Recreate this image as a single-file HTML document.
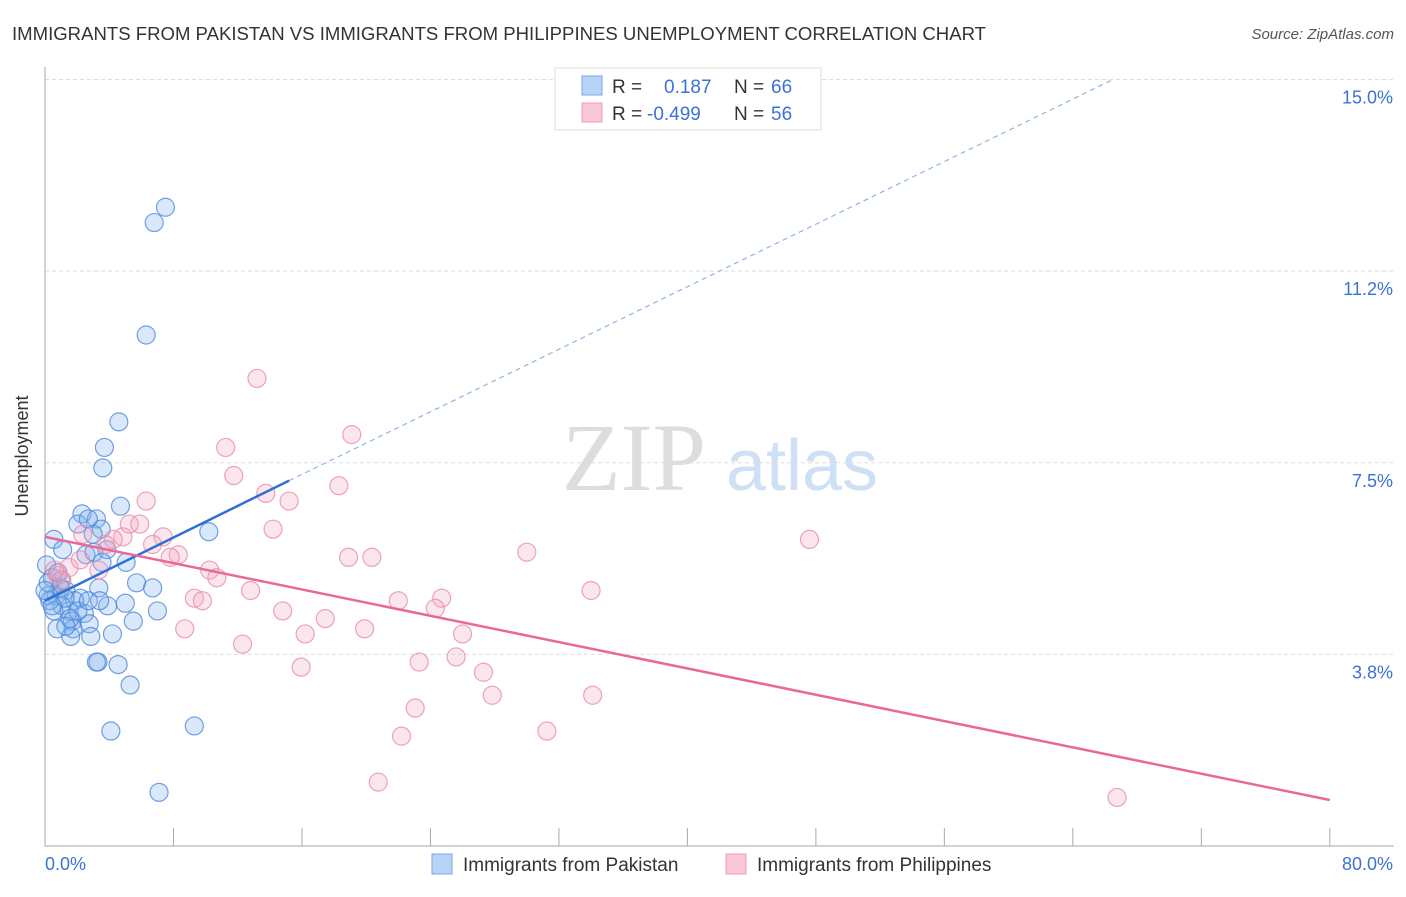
<!DOCTYPE html>
<html><head><meta charset="utf-8"><style>
body{margin:0;background:#fff;font-family:"Liberation Sans",sans-serif}
</style></head><body>
<svg width="1406" height="892" xmlns="http://www.w3.org/2000/svg" id="svg">
<text x="12" y="40" font-size="18" fill="#333" textLength="974" lengthAdjust="spacingAndGlyphs">IMMIGRANTS FROM PAKISTAN VS IMMIGRANTS FROM PHILIPPINES UNEMPLOYMENT CORRELATION CHART</text>
<text x="1394" y="39" font-size="15" fill="#555" font-style="italic" text-anchor="end">Source: ZipAtlas.com</text>
<text x="28" y="456" font-size="18" fill="#333" text-anchor="middle" transform="rotate(-90 28 456)">Unemployment</text>
<g>
<text x="634" y="490" font-size="96" fill="#ddd" font-family="Liberation Serif,serif" text-anchor="middle">ZIP</text>
<text x="802" y="490" font-size="72" fill="#cfe0f5" text-anchor="middle">atlas</text>
</g>
<g id="grid"></g><g id="axes"></g><g id="pts"></g><g id="lines"></g>
<g>
<rect x="555" y="68" width="266" height="62" fill="#fff" stroke="#ddd"/>
<rect x="582" y="76" width="20" height="19" fill="#b8d3f5" stroke="#7aa7e6"/>
<rect x="582" y="103" width="20" height="19" fill="#fbc8d7" stroke="#ef9ab5"/>
<text y="93" font-size="19"><tspan x="612" fill="#333">R = </tspan><tspan x="664" fill="#3b72d4">0.187</tspan><tspan x="734" fill="#333">N = </tspan><tspan x="771" fill="#3b72d4">66</tspan></text>
<text y="120" font-size="19"><tspan x="612" fill="#333">R = </tspan><tspan x="647" fill="#3b72d4">-0.499</tspan><tspan x="734" fill="#333">N = </tspan><tspan x="771" fill="#3b72d4">56</tspan></text>
</g>
<g>
<rect x="432" y="854" width="20" height="20" fill="#b8d3f5" stroke="#7aa7e6"/>
<text x="463" y="871" font-size="19" fill="#333">Immigrants from Pakistan</text>
<rect x="726" y="854" width="20" height="20" fill="#fbc8d7" stroke="#ef9ab5"/>
<text x="757" y="871" font-size="19" fill="#333">Immigrants from Philippines</text>
</g>
</svg>
<script>
const yTicks=[3.75,7.5,11.25,15];
const yTickLabels=["3.8%","7.5%","11.2%","15.0%"];
const xTicks=[0,8,16,24,32,40,48,56,64,72,80];
const xLabels=["0.0%","80.0%"];
const pakX=[7.5,6.8,6.3,4.6,3.7,3.6,4.7,2.3,3.2,2.05,2.7,3.5,10.2,0.55,3.0,1.1,2.55,3.85,3.05,3.55,5.05,0.1,0.45,1.0,5.7,6.7,3.35,1.3,0.7,0.2,2.2,1.85,3.9,5.0,7.0,1.05,1.5,2.45,0.55,1.7,2.75,5.5,1.75,0.75,1.6,2.85,4.2,3.3,3.2,4.55,5.3,9.3,4.1,7.1,0.3,0.95,1.25,2.05,2.7,0.2,1.55,0.8,0.0,0.45,1.3,3.4];
const pakY=[12.5,12.2,10.0,8.3,7.8,7.4,6.65,6.5,6.4,6.3,6.4,6.2,6.15,6.0,6.1,5.8,5.7,5.8,5.75,5.55,5.55,5.5,5.25,5.2,5.15,5.05,5.05,5.0,4.9,4.9,4.85,4.8,4.7,4.75,4.6,4.7,4.6,4.55,4.6,4.4,4.35,4.4,4.25,4.25,4.1,4.1,4.15,3.6,3.6,3.55,3.15,2.35,2.25,1.05,4.8,5.05,4.85,4.6,4.8,5.15,4.45,5.35,5.0,4.7,4.3,4.8];
const phiX=[13.2,11.25,19.1,11.75,13.75,18.3,6.3,15.2,5.25,14.2,2.35,4.85,4.25,7.35,6.7,8.3,7.8,18.9,20.35,30.0,47.6,10.25,10.7,3.35,1.5,0.8,12.8,34.0,9.3,9.8,22.0,24.7,24.3,14.8,17.45,8.7,16.2,19.9,26.0,12.3,25.6,23.3,15.95,27.3,27.85,34.1,23.05,22.2,31.25,20.75,66.75,1.05,0.6,3.75,5.9,2.2];
const phiY=[9.15,7.8,8.05,7.25,6.9,7.05,6.75,6.75,6.3,6.2,6.1,6.05,6.0,6.05,5.9,5.7,5.65,5.65,5.65,5.75,6.0,5.4,5.25,5.4,5.45,5.3,5.0,5.0,4.85,4.8,4.8,4.85,4.65,4.6,4.45,4.25,4.15,4.25,4.15,3.95,3.7,3.6,3.5,3.4,2.95,2.95,2.7,2.15,2.25,1.25,0.95,5.2,5.4,5.9,6.3,5.6];
const pakTrendX=[0,15.2,66.5];
const pakTrendY=[4.8,7.15,15.0];
const phiTrendX=[0,80];
const phiTrendY=[6.05,0.9];
const X=v=>45+v*16.06, Y=v=>846-v*51.1;
const NS="http://www.w3.org/2000/svg";
function mk(tag,attrs,parent){const e=document.createElementNS(NS,tag);for(const k in attrs)e.setAttribute(k,attrs[k]);document.getElementById(parent).appendChild(e);return e;}
yTicks.forEach((t,i)=>{
 const l=mk('line',{x1:45,x2:1394,y1:Y(t),y2:Y(t),stroke:'#ddd','stroke-dasharray':'4,3'},'grid');
 
 
 const tx=mk('text',{x:1393,y:Y(t)+24,'font-size':18,fill:'#3b72d4','text-anchor':'end'},'grid');
 tx.textContent=yTickLabels[i];
 
 
});
const ya=mk('line',{x1:45,x2:45,y1:67,y2:846,stroke:'#aaa'},'axes');


const xa=mk('line',{x1:45,x2:1394,y1:846,y2:846,stroke:'#aaa'},'axes');


xTicks.forEach(t=>{
 const l=mk('line',{x1:X(t),x2:X(t),y1:828,y2:846,stroke:'#aaa'},'axes');
 
 
});
const xl0=mk('text',{x:45,y:870,'font-size':18,fill:'#3b72d4'},'axes');xl0.textContent=xLabels[0];


const xl1=mk('text',{x:1393,y:870,'font-size':18,fill:'#3b72d4','text-anchor':'end'},'axes');xl1.textContent=xLabels[1];


pakX.forEach((v,i)=>{
 const c=mk('circle',{cx:X(v),cy:Y(pakY[i]),r:9,fill:'rgba(130,178,238,0.3)',stroke:'rgba(70,130,215,0.75)','stroke-width':1.2},'pts');
 
 
});
phiX.forEach((v,i)=>{
 const c=mk('circle',{cx:X(v),cy:Y(phiY[i]),r:9,fill:'rgba(245,165,192,0.28)',stroke:'rgba(232,140,170,0.8)','stroke-width':1.2},'pts');
 
 
});
const b1=mk('line',{x1:X(pakTrendX[0]),y1:Y(pakTrendY[0]),x2:X(pakTrendX[1]),y2:Y(pakTrendY[1]),stroke:'#2f6fd6','stroke-width':2.5},'lines');


const b2=mk('line',{x1:X(pakTrendX[1]),y1:Y(pakTrendY[1]),x2:X(pakTrendX[2]),y2:Y(pakTrendY[2]),stroke:'#8fb3e8','stroke-width':1.2,'stroke-dasharray':'5,4'},'lines');


const p1=mk('line',{x1:X(phiTrendX[0]),y1:Y(phiTrendY[0]),x2:X(phiTrendX[1]),y2:Y(phiTrendY[1]),stroke:'#e8689a','stroke-width':2.5},'lines');


</script>
</body></html>
